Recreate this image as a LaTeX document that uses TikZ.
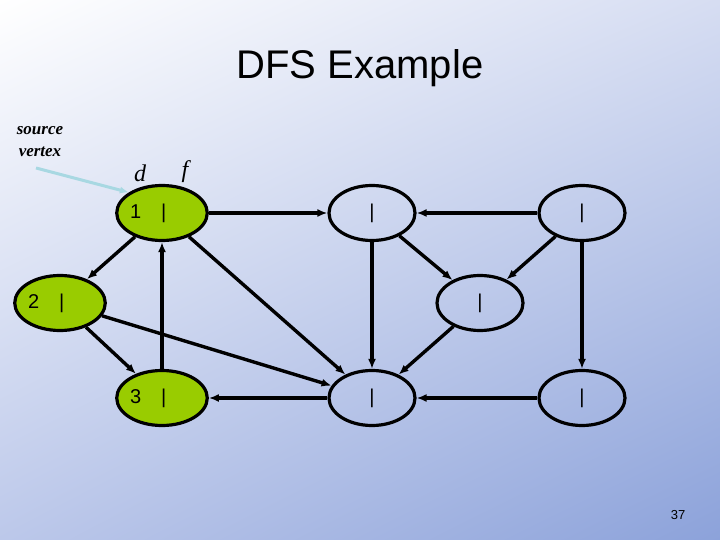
\documentclass[tikz,border=0pt]{standalone}
\usepackage{fontspec}
\setmainfont{Liberation Serif}
\newfontfamily\arialf{Liberation Sans}
\usetikzlibrary{shapes.geometric,arrows.meta,shadings}
\definecolor{vgreen}{HTML}{99CC00}
\definecolor{bgbr}{HTML}{8CA2DA}
\definecolor{bgtr}{HTML}{D6DDF2}
\definecolor{bgbl}{HTML}{BCC8EA}
\definecolor{srcc}{HTML}{A8D8E2}
\begin{document}
\begin{tikzpicture}[x=1pt,y=-1pt,
  vtx/.style={ellipse,draw,line width=3.2pt,minimum width=86pt,minimum height=55pt,inner sep=0pt,font=\arialf\fontsize{20}{20}\selectfont},
  vis/.style={vtx,fill=vgreen},
  nv/.style={vtx},
  e/.style={line width=3.4pt,-{Latex[length=10pt,width=8pt]}}]
\useasboundingbox (0,0) rectangle (720,540);
\shade[upper left=white,upper right=bgtr,lower left=bgbl,lower right=bgbr] (0,0) rectangle (720,540);
\node[font=\arialf\fontsize{40}{40}\selectfont] (title) at (360,68) {DFS Example};
\node[font=\bfseries\itshape\fontsize{17}{22}\selectfont,align=center] (src) at (40,142) {source\\vertex};
\node[font=\itshape\fontsize{24}{24}\selectfont] (d) at (140,173) {d};
\node[font=\itshape\fontsize{24}{24}\selectfont] (f) at (185,172) {f};
\node[vis] (n1) at (162,213) {\makebox[64pt][l]{1\hspace{20pt}|}};
\node[nv] (n2) at (372,213) {|};
\node[nv] (n3) at (582,213) {|};
\node[vis] (n4) at (60,303) {\makebox[64pt][l]{2\hspace{20pt}|}};
\node[nv] (n5) at (480,303) {|};
\node[vis] (n6) at (162,398) {\makebox[64pt][l]{3\hspace{20pt}|}};
\node[nv] (n7) at (372,398) {|};
\node[nv] (n8) at (582,398) {|};
\coordinate (s1) at (36,168);
\draw[line width=3pt,color=srcc,-{Latex[length=9pt,width=7pt]}] (s1) -- (n1.north west);
\draw[e] (n1) -- (n2);
\draw[e] (n3) -- (n2);
\draw[e] (n1) -- (n4);
\draw[e] (n4) -- (n6);
\draw[e] (n6) -- (n1);
\draw[e] (n1) -- (n7);
\draw[e] (n4) -- (n7);
\draw[e] (n7) -- (n6);
\draw[e] (n2) -- (n7);
\draw[e] (n2) -- (n5);
\draw[e] (n3) -- (n5);
\draw[e] (n5) -- (n7);
\draw[e] (n8) -- (n7);
\draw[e] (n3) -- (n8);
\node[font=\arialf\fontsize{13}{13}\selectfont] (pg) at (678,515) {37};
\end{tikzpicture}
\end{document}
